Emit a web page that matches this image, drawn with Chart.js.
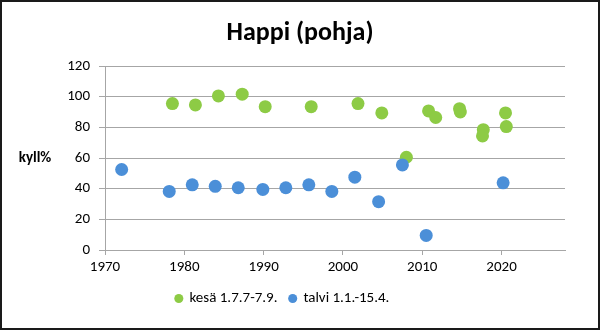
<!DOCTYPE html>
<html>
<head>
<meta charset="utf-8">
<script src="https://cdn.jsdelivr.net/npm/chart.js@4/dist/chart.umd.min.js"></script>
<style>
  html, body { margin: 0; padding: 0; background: #fff; }
  #wrap { width: 600px; height: 330px; position: relative; }
</style>
</head>
<body>
<div id="wrap"><canvas id="c" width="600" height="330"></canvas></div>
<script>
// Bottom oxygen saturation (kyll%) by year, summer and winter samples
const chartTitle = 'Happi (pohja)';
const yAxisLabel = 'kyll%';
const summerLabel = 'kesä 1.7.7-7.9.';
const winterLabel = 'talvi 1.1.-15.4.';

const summerYears  = [1978.5, 1981.4, 1984.3, 1987.3, 1990.2, 1996.0, 2001.9, 2004.9, 2008.0, 2010.8, 2011.7, 2014.7, 2014.8, 2017.7, 2017.6, 2020.5, 2020.6];
const summerValues = [95.5, 94.6, 100.5, 101.6, 93.5, 93.5, 95.5, 89.4, 60.5, 90.7, 86.4, 92.2, 90.0, 78.5, 74.4, 89.4, 80.5];

const winterYears  = [1972.1, 1978.1, 1981.0, 1983.9, 1986.8, 1989.9, 1992.8, 1995.7, 1998.6, 2001.5, 2004.5, 2007.5, 2010.5, 2020.2];
const winterValues = [52.5, 38.2, 42.5, 41.5, 40.6, 39.5, 40.6, 42.5, 38.2, 47.5, 31.5, 55.5, 9.5, 43.8];

const xMin = 1970, xMax = 2028, xStep = 10;
const yMin = 0, yMax = 120, yStep = 20;

const GREEN = '#8DCB45';
const BLUE = '#4B8FD8';
const FONT = 'Carlito, Lato, "Open Sans", sans-serif';

function pairs(xs, ys) { return xs.map((x, i) => ({ x: x, y: ys[i] })); }

// Title centred on the whole canvas, horizontal y-axis caption and the outer frame
const decorations = {
  id: 'decorations',
  afterDraw(chart) {
    const ctx = chart.ctx;
    const area = chart.chartArea;
    ctx.save();
    ctx.fillStyle = '#000';
    ctx.textAlign = 'center';
    ctx.textBaseline = 'middle';
    ctx.font = 'bold 26px ' + FONT;
    ctx.fillText(chartTitle, chart.width / 2, 33);
    ctx.font = 'bold 15px ' + FONT;
    ctx.fillText(yAxisLabel, 35, (area.top + area.bottom) / 2);
    ctx.strokeStyle = '#1a1a1a';
    ctx.lineWidth = 2;
    ctx.strokeRect(1, 1, chart.width - 2, chart.height - 2);
    ctx.restore();
  }
};

const whiteBg = {
  id: 'whiteBg',
  beforeDraw(chart) {
    const ctx = chart.ctx;
    ctx.save();
    ctx.fillStyle = '#fff';
    ctx.fillRect(0, 0, chart.width, chart.height);
    ctx.restore();
  }
};

new Chart(document.getElementById('c'), {
  type: 'scatter',
  data: {
    datasets: [
      { label: winterLabel, data: pairs(winterYears, winterValues), backgroundColor: BLUE, borderColor: BLUE, pointRadius: 6.5, pointBorderWidth: 0, pointHoverRadius: 6.5 },
      { label: summerLabel, data: pairs(summerYears, summerValues), backgroundColor: GREEN, borderColor: GREEN, pointRadius: 6.5, pointBorderWidth: 0, pointHoverRadius: 6.5 }
    ]
  },
  options: {
    responsive: false,
    animation: false,
    events: [],
    layout: { padding: { left: 0, right: 35, top: 66, bottom: 14 } },
    plugins: {
      title: { display: false },
      legend: {
        position: 'bottom',
        labels: {
          color: '#000',
          font: { family: FONT, size: 15 },
          usePointStyle: true,
          pointStyle: 'circle',
          boxWidth: 6.4,
          boxHeight: 6.4,
          padding: 12,
          sort: (a, b) => b.datasetIndex - a.datasetIndex
        }
      },
      tooltip: { enabled: false }
    },
    scales: {
      x: {
        type: 'linear',
        min: xMin,
        max: xMax,
        afterBuildTicks(scale) {
          const t = [];
          for (let v = xMin; v <= xMax; v += xStep) t.push({ value: v });
          scale.ticks = t;
        },
        ticks: { color: '#000', font: { family: FONT, size: 15 }, padding: 3, callback: v => String(v), maxRotation: 0 },
        grid: { drawOnChartArea: false, drawTicks: true, tickLength: 5, color: '#A6A6A6' },
        border: { color: '#A6A6A6', width: 1 }
      },
      y: {
        min: yMin,
        max: yMax,
        afterFit(scale) { scale.width = 105; },
        ticks: { stepSize: yStep, color: '#000', font: { family: FONT, size: 15 }, padding: 9 },
        grid: { color: '#A6A6A6', tickLength: 6, lineWidth: 1 },
        border: { color: '#A6A6A6', width: 1 }
      }
    }
  },
  plugins: [whiteBg, decorations]
});
</script>
</body>
</html>
